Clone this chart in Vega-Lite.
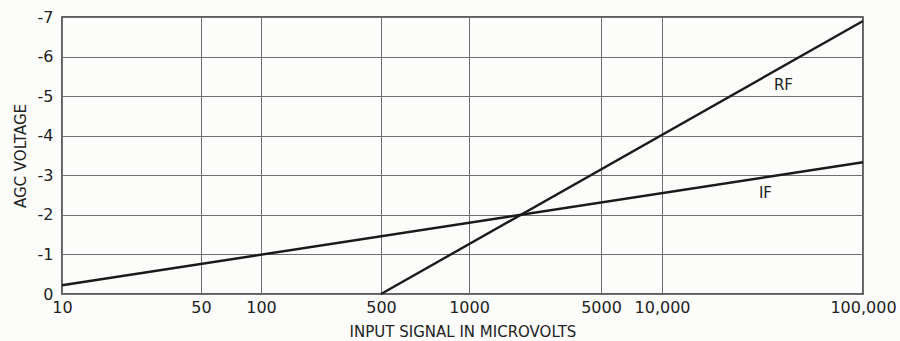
{
  "$schema": "https://vega.github.io/schema/vega-lite/v6.json",
  "autosize": "none",
  "width": 801,
  "height": 277,
  "padding": {"left": 62, "top": 17, "right": 37, "bottom": 47},
  "background": "#fcfcfa",
  "config": {
    "view": {"stroke": "#2a2a2a", "strokeWidth": 1.5},
    "font": "DejaVu Sans",
    "axis": {
      "gridColor": "#6e6e6e",
      "gridWidth": 1,
      "gridOpacity": 1,
      "domain": false,
      "ticks": false,
      "labelOverlap": false,
      "labelFont": "DejaVu Sans",
      "labelFontSize": 16,
      "labelColor": "#222222",
      "titleFont": "DejaVu Sans",
      "titleFontSize": 15,
      "titleFontWeight": "normal",
      "titleColor": "#222222"
    }
  },
  "datasets": {
    "curves": [
      {"signal": 10, "agc": -0.22, "stage": "IF"},
      {"signal": 100000, "agc": -3.33, "stage": "IF"},
      {"signal": 500, "agc": 0, "stage": "RF"},
      {"signal": 100000, "agc": -6.9, "stage": "RF"}
    ],
    "labels": [
      {"signal": 40200, "agc": -5.28, "text": "RF"},
      {"signal": 32700, "agc": -2.55, "text": "IF"}
    ]
  },
  "layer": [
    {
      "data": {"name": "curves"},
      "mark": {"type": "line", "color": "#1a1a1a", "strokeWidth": 2.4},
      "encoding": {
        "x": {
          "field": "signal",
          "type": "quantitative",
          "scale": {
            "type": "log",
            "domain": [10, 50, 100, 500, 1000, 5000, 10000, 100000],
            "range": [0, 139, 199, 319, 407, 539, 600, 801],
            "nice": false
          },
          "axis": {
            "values": [10, 50, 100, 500, 1000, 5000, 10000, 100000],
            "tickCount": 20,
            "labelExpr": "datum.value >= 10000 ? format(datum.value, ',') : format(datum.value, 'd')",
            "labelPadding": 5,
            "labelFlush": false,
            "title": "INPUT SIGNAL IN MICROVOLTS",
            "titlePadding": 9
          }
        },
        "y": {
          "field": "agc",
          "type": "quantitative",
          "scale": {"domain": [0, -7], "nice": false},
          "axis": {
            "values": [0, -1, -2, -3, -4, -5, -6, -7],
            "tickCount": 20,
            "labelExpr": "datum.value == 0 ? '0' : '-' + abs(datum.value)",
            "labelPadding": 9,
            "title": "AGC VOLTAGE",
            "titlePadding": 9
          }
        },
        "detail": {"field": "stage"}
      }
    },
    {
      "data": {"name": "labels"},
      "mark": {"type": "text", "fontSize": 15, "color": "#222222", "font": "DejaVu Sans"},
      "encoding": {
        "x": {"field": "signal", "type": "quantitative"},
        "y": {"field": "agc", "type": "quantitative"},
        "text": {"field": "text"}
      }
    }
  ]
}
